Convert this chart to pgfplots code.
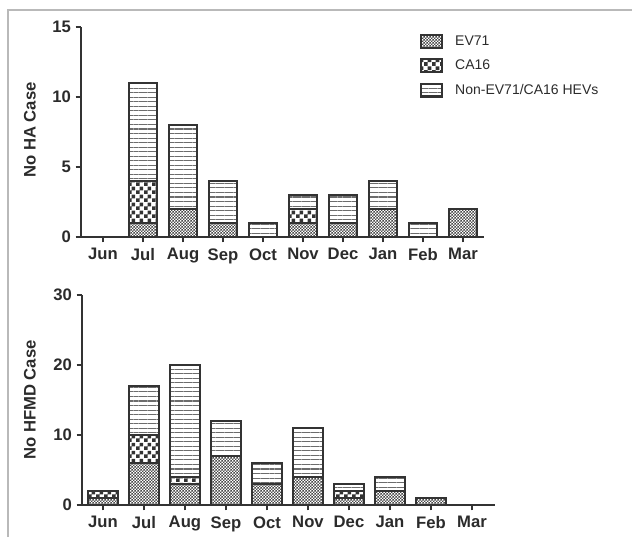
\documentclass[border=0pt]{standalone}
\usepackage{pgfplots}
\pgfplotsset{compat=1.18}
\usetikzlibrary{patterns.meta}
\usepackage{fontspec}
\setmainfont{Liberation Sans}
\definecolor{axcol}{HTML}{333333}
\definecolor{txt}{HTML}{2B2B2B}
\definecolor{patcol}{HTML}{4A4A4A}

\pgfdeclarepattern{
  name=finechk,
  bottom left={\pgfpoint{0pt}{0pt}},
  top right={\pgfpoint{2.2pt}{2.2pt}},
  tile size={\pgfpoint{2.2pt}{2.2pt}},
  code={
    \pgfpathrectangle{\pgfpoint{0pt}{0pt}}{\pgfpoint{1.1pt}{1.1pt}}
    \pgfpathrectangle{\pgfpoint{1.1pt}{1.1pt}}{\pgfpoint{1.1pt}{1.1pt}}
    \pgfusepath{fill}
  }
}
\pgfdeclarepattern{
  name=bigchk,
  bottom left={\pgfpoint{0pt}{0pt}},
  top right={\pgfpoint{6pt}{6pt}},
  tile size={\pgfpoint{6pt}{6pt}},
  code={
    \pgfpathrectangle{\pgfpoint{0pt}{0pt}}{\pgfpoint{3pt}{3pt}}
    \pgfpathrectangle{\pgfpoint{3pt}{3pt}}{\pgfpoint{3pt}{3pt}}
    \pgfusepath{fill}
  }
}

\pgfplotsset{
  legimg/.style={legend image code/.code={\draw[##1] (0pt,-4.5pt) rectangle (16pt,5pt);}},
  ev/.style={draw=axcol, line width=1.6pt, pattern=finechk, pattern color=patcol, legimg},
  ca/.style={draw=axcol, line width=1.6pt, pattern=bigchk, pattern color=axcol, legimg},
  nn/.style={draw=axcol, line width=1.6pt, pattern={Lines[angle=0,distance=3.4pt,line width=0.8pt]}, pattern color=gray!85!black, legimg},
  myaxis/.style={
    scale only axis,
    ybar stacked,
    axis x line*=bottom,
    axis y line*=left,
    axis line style={axcol, line width=1.3pt},
    tick style={axcol, line width=1.3pt},
    tick align=outside,
    major tick length=4pt,
    xtick={0,...,9},
    xticklabels={Jun,Jul,Aug,Sep,Oct,Nov,Dec,Jan,Feb,Mar},
    ymin=0,
    ticklabel style={font=\fontsize{12.5}{14}\selectfont\bfseries, text=txt},
    /pgf/number format/assume math mode=true,
    every axis y label/.style={rotate=90, anchor=center, font=\fontsize{12.5}{14}\selectfont\bfseries, text=txt},
    xticklabel style={yshift=-1pt},
  }
}

\begin{document}
\begin{tikzpicture}
\useasboundingbox (0,0) rectangle (474pt,402.75pt);
\draw[gray!55, line width=0.9pt] (6pt,0pt) -- (6pt,395.25pt) -- (474pt,395.25pt);

% Top panel
\begin{axis}[myaxis,
  at={(60.75pt,225pt)}, anchor=south west,
  width=302.25pt, height=157.5pt,
  xmin=-0.55, xmax=9.525,
  ymax=15, ytick={0,5,10,15},
  bar width=0.7,
  ylabel={No HA Case},
  every axis y label/.append style={at={(axis description cs:-0.127,0.51)}},
  legend style={at={(axis description cs:0.83,0.985)}, anchor=north west, draw=none, fill=none,
    font=\fontsize{10.5}{12}\selectfont, text=txt, row sep=5.5pt, column sep=7pt, cells={anchor=west}},
]
\addplot[ev] coordinates {(0,0) (1,1) (2,2) (3,1) (4,0) (5,1) (6,1) (7,2) (8,0) (9,2)};
\addplot[ca] coordinates {(0,0) (1,3) (2,0) (3,0) (4,0) (5,1) (6,0) (7,0) (8,0) (9,0)};
\addplot[nn] coordinates {(0,0) (1,7) (2,6) (3,3) (4,1) (5,1) (6,2) (7,2) (8,1) (9,0)};
\legend{EV71, CA16, Non-EV71/CA16 HEVs}
\end{axis}

% Bottom panel
\begin{axis}[myaxis,
  at={(61.5pt,24pt)}, anchor=south west,
  width=309.75pt, height=157.5pt,
  xmin=-0.51, xmax=9.56,
  ymax=30, ytick={0,10,20,30},
  bar width=0.72,
  ylabel={No HFMD Case},
  every axis y label/.append style={at={(axis description cs:-0.126,0.5)}},
]
\addplot[ev] coordinates {(0,1) (1,6) (2,3) (3,7) (4,3) (5,4) (6,1) (7,2) (8,1) (9,0)};
\addplot[ca] coordinates {(0,1) (1,4) (2,1) (3,0) (4,0) (5,0) (6,1) (7,0) (8,0) (9,0)};
\addplot[nn] coordinates {(0,0) (1,7) (2,16) (3,5) (4,3) (5,7) (6,1) (7,2) (8,0) (9,0)};
\end{axis}
\end{tikzpicture}
\end{document}
